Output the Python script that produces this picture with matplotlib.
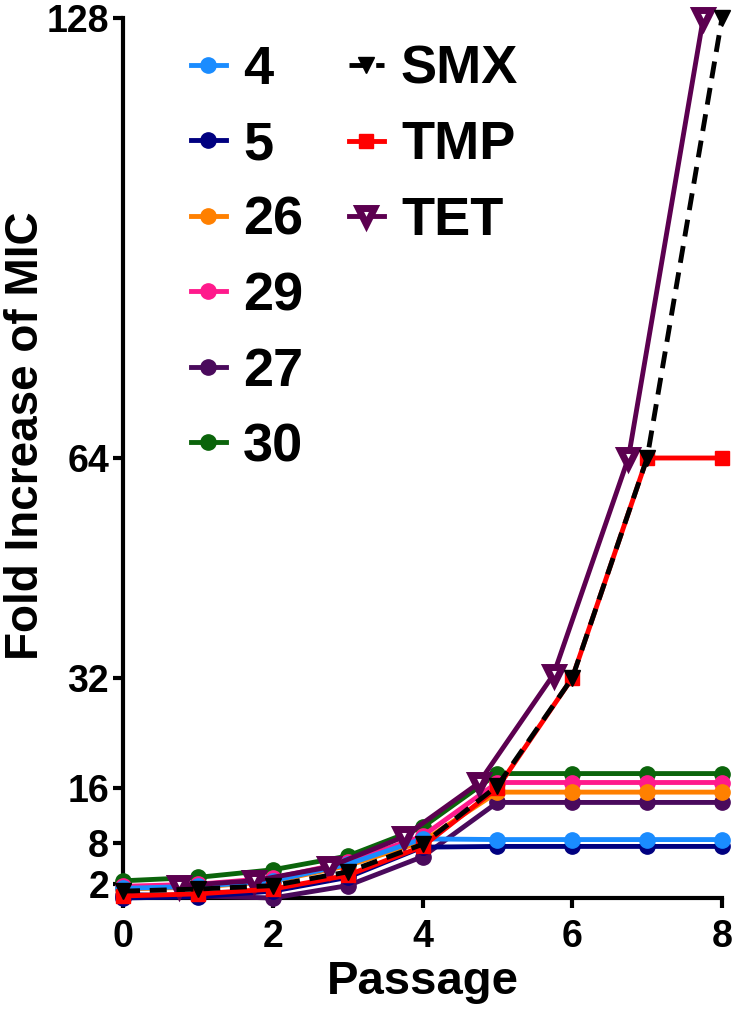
import matplotlib
matplotlib.use("Agg")
import matplotlib.pyplot as plt

plt.rcParams['font.family'] = ['Liberation Sans', 'DejaVu Sans']
plt.rcParams['font.weight'] = 'bold'

# passages and fold increase of MIC
passage = [0, 1, 2, 3, 4, 5, 6, 7, 8]
iso_4 = [1.4, 1.7, 2.5, 4.9, 8.6, 8.5, 8.5, 8.5, 8.5]
iso_5 = [0.0, 0.2, 1.0, 3.0, 7.4, 7.5, 7.5, 7.5, 7.5]
iso_26 = [1.3, 1.6, 2.4, 4.7, 8.2, 15.4, 15.4, 15.4, 15.4]
iso_29 = [1.7, 2.0, 2.9, 5.2, 9.0, 16.8, 16.8, 16.8, 16.8]
iso_27 = [0.5, 0.3, 0.0, 1.8, 6.0, 13.9, 13.9, 13.9, 13.9]
iso_30 = [2.5, 3.0, 4.1, 6.1, 10.3, 18.1, 18.1, 18.1, 18.1]
smx = [1.0, 1.3, 1.8, 3.8, 7.8, 16.3, 32, 64, 128]
tmp = [0.3, 0.6, 1.3, 3.3, 7.5, 16, 32, 64, 64]
tet_passage = [0.75, 1.75, 2.75, 3.75, 4.75, 5.75, 6.75, 7.75]
tet = [1.8, 2.5, 4.5, 8.9, 16.7, 32.5, 64, 128]

yticks = [2, 8, 16, 32, 64, 128]
xticks = [0, 2, 4, 6, 8]

fig = plt.figure(figsize=(7.33, 10.10), dpi=100)
ax = fig.add_axes([123 / 733, 112 / 1010, 599 / 733, 880 / 1010])

lw = 3.5
iso = [
    ('4', iso_4, '#1a8cff', 17),
    ('5', iso_5, '#000080', 16),
    ('26', iso_26, '#ff8000', 15),
    ('29', iso_29, '#ff1a8c', 14),
    ('27', iso_27, '#4a0a5c', 13),
    ('30', iso_30, '#0b640b', 12),
]
iso_handles = []
for name, vals, col, z in iso:
    h, = ax.plot(passage, vals, color=col, lw=lw, marker='o', ms=11,
                 zorder=z, clip_on=False, label=name)
    iso_handles.append(h)

h_smx, = ax.plot(passage, smx, color='black', lw=lw, ls=(0, (3.5, 2)),
                 marker='v', ms=11, zorder=20, clip_on=False, label='SMX')
h_tmp, = ax.plot(passage, tmp, color='#ff0000', lw=lw, marker='s', ms=10,
                 zorder=19, clip_on=False, label='TMP')
h_tet, = ax.plot(tet_passage, tet, color='#5c0050', lw=lw, marker='v', ms=12,
                 mfc='white', mec='#5c0050', mew=5, zorder=18,
                 clip_on=False, label='TET')

ax.set_xlim(0, 8)
ax.set_ylim(0, 128)
ax.set_xticks(xticks)
ax.set_yticks(yticks)
for s in ['top', 'right']:
    ax.spines[s].set_visible(False)
for s in ['left', 'bottom']:
    ax.spines[s].set_linewidth(3)
ax.tick_params(axis='both', width=3, length=7, labelsize=27)
ax.tick_params(axis='x', pad=8)
ax.tick_params(axis='y', pad=3)

ax.set_xlabel('Passage', fontsize=34, fontweight='bold', labelpad=4)
ax.set_ylabel('Fold Increase of MIC', fontsize=33, fontweight='bold')
ax.yaxis.set_label_coords(-0.125, 0.525)

leg_kw = dict(frameon=False, fontsize=39, handlelength=0.64, handletextpad=0.32,
              labelspacing=0.47, borderpad=0, borderaxespad=0, loc='upper left',
              bbox_transform=fig.transFigure)
leg1 = ax.legend(handles=iso_handles, bbox_to_anchor=(191 / 733, 1 - 45 / 1010),
                 **leg_kw)
ax.add_artist(leg1)
ax.legend(handles=[h_smx, h_tmp, h_tet], bbox_to_anchor=(349 / 733, 1 - 45 / 1010),
          **leg_kw)

fig.savefig('out.png', dpi=100)
